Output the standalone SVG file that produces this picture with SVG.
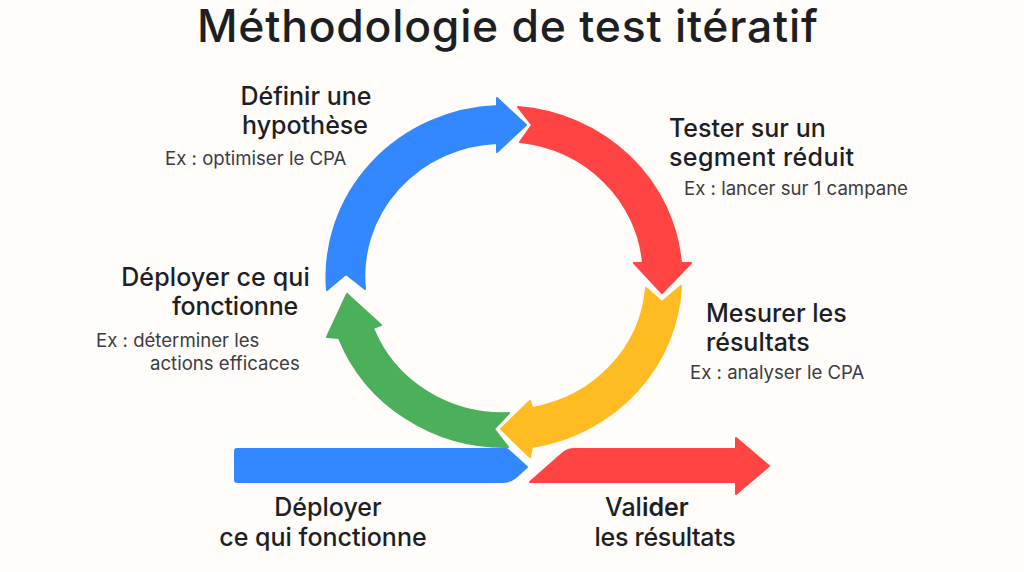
<svg xmlns="http://www.w3.org/2000/svg" width="1024" height="572" viewBox="0 0 1024 572">
<style>
text{font-family:Inter,"Noto Sans","Liberation Sans",sans-serif;fill:#1c1f24}
.t{font-size:44.5px;font-weight:550;letter-spacing:0.75px}
.h{font-size:25px;font-weight:530}
.s{font-size:18.6px;font-weight:400;fill:#3a3d42}
.a{stroke-width:2;stroke-linejoin:round}
.blue{fill:#3388ff;stroke:#3388ff}
.red{fill:#ff4444;stroke:#ff4444}
.yellow{fill:#ffbb22;stroke:#ffbb22}
.green{fill:#4caf5b;stroke:#4caf5b}
</style>
<rect width="1024" height="572" fill="#fffcfa"/>
<text class="t" x="197" y="42">Méthodologie de test itératif</text>
<g id="connectors">
<path class="a green" d="M509 413L494 429L508 447A178 171 0 0 1 339 338L327 337L347 294L381 325L373 328A139 133 0 0 0 509 413Z"/>
<path class="a blue" d="M237 449H507L527 467L516 477Q510 482 503 482H237Q235 482 235 480V451Q235 449 237 449Z"/>
<path class="a red" d="M530 482L563 453Q568 449 574 449H736V438L769 466L736 494V482Z"/>
<path class="a blue" d="M327 290A178 171 0 0 1 497 106V98L526 125L497 152V143A139 133 0 0 0 365 289L346 274Z"/>
<path class="a red" d="M518 107A178 171 0 0 1 681 263H691L662 293L634 263H643A139 133 0 0 0 520 142L532 125Z"/>
<path class="a yellow" d="M681 286A178 171 0 0 1 532 447L530 457L501 429L530 401L532 408A139 133 0 0 0 646 288L662 302Z"/>
</g>
<g id="node-definir">
<text class="h" x="306" y="105" text-anchor="middle">Définir une</text>
<text class="h" x="305" y="134" text-anchor="middle">hypothèse</text>
<text class="s" x="165" y="165">Ex : optimiser le CPA</text>
</g>
<g id="node-tester">
<text class="h" x="669" y="137">Tester sur un</text>
<text class="h" x="669" y="166" letter-spacing="0.4">segment réduit</text>
<text class="s" x="684" y="195">Ex : lancer sur 1 campane</text>
</g>
<g id="node-mesurer">
<text class="h" x="706" y="322">Mesurer les</text>
<text class="h" x="706" y="351">résultats</text>
<text class="s" x="690" y="379">Ex : analyser le CPA</text>
</g>
<g id="node-deployer">
<text class="h" x="310" y="286" text-anchor="end" letter-spacing="0.15">Déployer ce qui</text>
<text class="h" x="298" y="315" text-anchor="end" letter-spacing="-0.2">fonctionne</text>
<text class="s" x="96" y="347">Ex : déterminer les</text>
<text class="s" x="150" y="370">actions efficaces</text>
</g>
<g id="node-bar-deployer">
<text class="h" x="328" y="516" text-anchor="middle">Déployer</text>
<text class="h" x="323" y="546" text-anchor="middle">ce qui fonctionne</text>
</g>
<g id="node-bar-valider">
<text class="h" x="605" y="516">Val<tspan font-weight="600">ider</tspan></text>
<text class="h" x="665" y="546" text-anchor="middle" letter-spacing="-0.3">les résultats</text>
</g>
</svg>
